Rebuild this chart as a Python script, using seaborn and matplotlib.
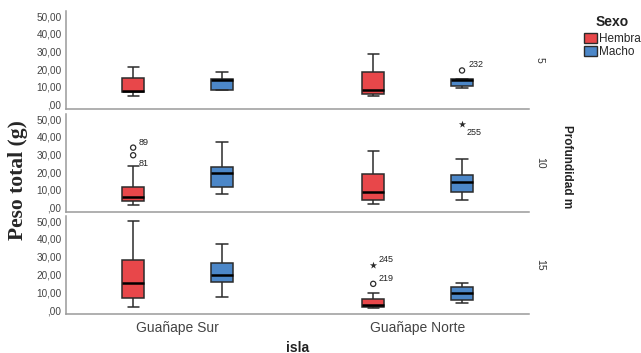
import numpy as np
import pandas as pd
import matplotlib
matplotlib.use("Agg")
import matplotlib.pyplot as plt
from matplotlib.patches import Patch
import seaborn as sns

# ---------------- data ----------------
islas = ["Guañape Sur", "Guañape Norte"]
sexos = ["Hembra", "Macho"]
profundidades = [5, 10, 15]

# group order inside each depth: Sur-Hembra, Sur-Macho, Norte-Hembra, Norte-Macho
grp_prof = [5, 5, 5, 5, 10, 10, 10, 10, 15, 15, 15, 15]
grp_isla = ["Guañape Sur", "Guañape Sur", "Guañape Norte", "Guañape Norte"] * 3
grp_sexo = ["Hembra", "Macho", "Hembra", "Macho"] * 3
whisker_low = [4.9, 8.2, 4.7, 9.2, 1.7, 7.7, 2.1, 4.5, 1.9, 7.2, 1.5, 4.2]
q1 = [7.1, 8.5, 6.2, 10.7, 3.6, 11.8, 4.3, 9.0, 7.0, 15.8, 1.9, 5.7]
median = [7.6, 13.8, 8.4, 13.8, 6.2, 19.7, 9.0, 14.2, 15.0, 20.0, 3.2, 9.5]
q3 = [15.0, 14.5, 18.2, 14.4, 11.8, 23.0, 18.9, 18.5, 28.1, 26.6, 6.3, 13.3]
whisker_high = [21.5, 18.2, 28.5, 14.5, 23.8, 37.1, 32.0, 27.5, 50.0, 36.9, 9.5, 15.0]

# outliers
out_prof = [5, 10, 10, 10, 15, 15]
out_isla = ["Guañape Norte", "Guañape Sur", "Guañape Sur", "Guañape Norte",
            "Guañape Norte", "Guañape Norte"]
out_sexo = ["Macho", "Hembra", "Hembra", "Macho", "Hembra", "Hembra"]
out_valor = [19.3, 33.9, 29.6, 47.4, 14.8, 25.6]
out_tipo = ["o", "o", "o", "*", "o", "*"]
out_label = ["232", "89", "81", "255", "219", "245"]

ytick_values = [0, 10, 20, 30, 40, 50]
ytick_labels = [",00", "10,00", "20,00", "30,00", "40,00", "50,00"]

# ---------------- styling ----------------
sns.set_style("white")
plt.rcParams["font.family"] = ["Liberation Sans", "DejaVu Sans"]

palette = {"Hembra": "#E8474A", "Macho": "#4C87C8"}
edge = "#2b2b2b"
spine_col = "#9a9a9a"
BOX_WIDTH = 0.74
GAP = 0.75

# long table: the five-number summary of every group
rows = []
for i in range(len(grp_prof)):
    for v in (whisker_low[i], q1[i], median[i], q3[i], whisker_high[i]):
        rows.append({"prof": grp_prof[i], "isla": grp_isla[i],
                     "sexo": grp_sexo[i], "peso": v})
df = pd.DataFrame(rows)

outl = pd.DataFrame({"prof": out_prof, "isla": out_isla, "sexo": out_sexo,
                     "peso": out_valor, "tipo": out_tipo, "label": out_label})

fig = plt.figure(figsize=(6.41, 3.53), dpi=100)
W, H = 641.0, 353.0
left, right = 65.7, 529.0
panels_px = [(11, 108.7), (114, 211.7), (216, 314.3)]

label_offsets = {"232": (5, 4), "89": (4, 4), "81": (4, -6),
                 "255": (3, -6), "219": (4, 4), "245": (4, 4)}

axes = []
for k, prof in enumerate(profundidades):
    top, bot = panels_px[k]
    ax = fig.add_axes([left / W, 1 - bot / H, (right - left) / W, (bot - top) / H])
    axes.append(ax)
    sub = df[df["prof"] == prof]
    sns.boxplot(data=sub, x="isla", y="peso", hue="sexo", order=islas,
                hue_order=sexos, palette=palette, saturation=1,
                width=BOX_WIDTH, gap=GAP,
                whis=(0, 100), showfliers=False, linecolor=edge, linewidth=1.1,
                medianprops=dict(color="black", linewidth=1.8),
                legend=False, ax=ax)
    # outliers
    so = outl[outl["prof"] == prof]
    each = BOX_WIDTH / len(sexos)
    for _, r in so.iterrows():
        xpos = islas.index(r["isla"]) + (sexos.index(r["sexo"]) - 0.5) * each
        if r["tipo"] == "o":
            ax.scatter([xpos], [r["peso"]], s=14, facecolors="none",
                       edgecolors=edge, linewidths=0.9, zorder=5)
        else:
            ax.scatter([xpos], [r["peso"]], s=30, marker="*", color=edge,
                       linewidths=0, zorder=5)
        ax.annotate(r["label"], (xpos, r["peso"]),
                    xytext=label_offsets[r["label"]], textcoords="offset points",
                    fontsize=6.5, color="#222222", ha="left", va="center")

    ax.set_xlim(-0.466, 1.464)
    ax.set_ylim(-2.3, 52.9)
    ax.set_yticks(ytick_values)
    ax.set_yticklabels(ytick_labels)
    ax.tick_params(axis="y", length=0, pad=3, labelsize=7.2, labelcolor="#444444")
    ax.tick_params(axis="x", length=0, pad=5, labelsize=10, labelcolor="#444444")
    ax.set_xlabel("")
    ax.set_ylabel("")
    for s in ("top", "right"):
        ax.spines[s].set_visible(False)
    for s in ("left", "bottom"):
        ax.spines[s].set_visible(True)
        ax.spines[s].set_color(spine_col)
        ax.spines[s].set_linewidth(1.1)
    if k < 2:
        ax.set_xticklabels([])
    # row label
    fig.text(540 / W, 1 - (top + bot) / 2 / H, str(prof), rotation=270,
             ha="center", va="center", fontsize=7.5, color="#333333")

# titles / labels
fig.text(18 / W, 1 - 180.5 / H, "Peso total (g)", rotation=90, ha="center",
         va="center", fontsize=15.5, fontweight="bold",
         family=["Liberation Serif", "DejaVu Serif"])
fig.text(298 / W, 1 - 347.5 / H, "isla", ha="center", va="center",
         fontsize=10, fontweight="bold", color="#222222")
fig.text(567 / W, 1 - 167 / H, "Profundidad m", rotation=270, ha="center",
         va="center", fontsize=8.5, fontweight="bold", color="#222222")
fig.text(612.5 / W, 1 - 21.7 / H, "Sexo", ha="center", va="center",
         fontsize=10, fontweight="bold", color="#222222")

handles = [Patch(facecolor=palette[s], edgecolor=edge, linewidth=1.0) for s in sexos]
fig.legend(handles, sexos, loc="upper left", bbox_to_anchor=(584 / W, 1 - 33 / H),
           frameon=False, handlelength=1.1, handleheight=0.85, handletextpad=0.15,
           labelspacing=0.08, borderpad=0, borderaxespad=0, fontsize=8.5)

fig.savefig("out.png", dpi=100)
